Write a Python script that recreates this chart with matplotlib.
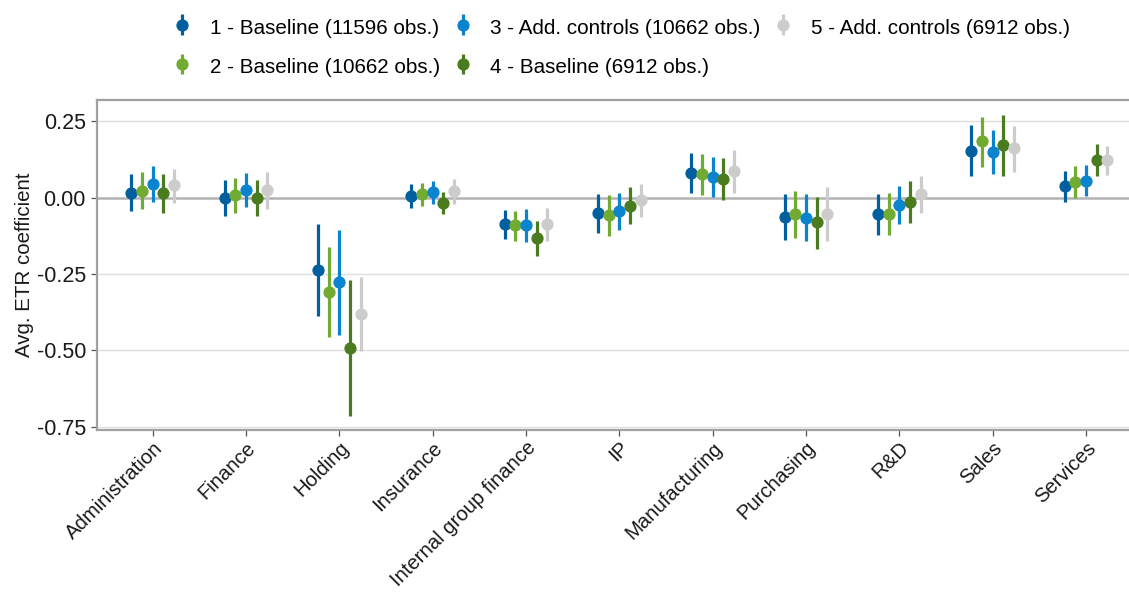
import numpy as np
import matplotlib
matplotlib.use("Agg")
import matplotlib.pyplot as plt

plt.rcParams['font.family'] = ['Liberation Sans', 'DejaVu Sans']

categories = ["Administration", "Finance", "Holding", "Insurance",
              "Internal group finance", "IP", "Manufacturing", "Purchasing",
              "R&D", "Sales", "Services"]

series_labels = ["1 - Baseline (11596 obs.)", "2 - Baseline (10662 obs.)",
                 "3 - Add. controls (10662 obs.)", "4 - Baseline (6912 obs.)",
                 "5 - Add. controls (6912 obs.)"]
series_colors = ["#00609f", "#72ab32", "#0a84cc", "#4a7c1f", "#cccccc"]

# point estimates per series (one value per category)
est1 = [0.016, -0.002, -0.236, 0.004, -0.087, -0.051, 0.082, -0.064, -0.054, 0.154, 0.038]
est2 = [0.023, 0.009, -0.308, 0.012, -0.090, -0.058, 0.078, -0.053, -0.052, 0.186, 0.051]
est3 = [0.046, 0.026, -0.276, 0.020, -0.089, -0.045, 0.067, -0.066, -0.023, 0.150, 0.056]
est4 = [0.014, 0.000, -0.491, -0.017, -0.133, -0.026, 0.061, -0.081, -0.014, 0.173, 0.122]
est5 = [0.041, 0.024, -0.381, 0.022, -0.087, -0.009, 0.086, -0.052, 0.012, 0.162, 0.122]

# confidence interval bounds
lo1 = [-0.044, -0.060, -0.386, -0.035, -0.135, -0.117, 0.016, -0.140, -0.121, 0.070, -0.014]
hi1 = [0.077, 0.057, -0.086, 0.044, -0.041, 0.013, 0.146, 0.011, 0.011, 0.237, 0.087]
lo2 = [-0.038, -0.051, -0.457, -0.026, -0.141, -0.124, 0.010, -0.132, -0.122, 0.102, 0.000]
hi2 = [0.083, 0.066, -0.160, 0.049, -0.044, 0.010, 0.144, 0.022, 0.014, 0.265, 0.104]
lo3 = [-0.013, -0.031, -0.449, -0.020, -0.144, -0.107, 0.001, -0.143, -0.086, 0.079, 0.006]
hi3 = [0.103, 0.082, -0.106, 0.056, -0.037, 0.015, 0.132, 0.011, 0.038, 0.221, 0.106]
lo4 = [-0.049, -0.060, -0.715, -0.054, -0.192, -0.085, -0.008, -0.167, -0.083, 0.070, 0.071]
hi4 = [0.077, 0.059, -0.270, 0.020, -0.077, 0.034, 0.131, 0.003, 0.055, 0.272, 0.175]
lo5 = [-0.017, -0.037, -0.501, -0.021, -0.143, -0.063, 0.014, -0.141, -0.051, 0.085, 0.075]
hi5 = [0.094, 0.083, -0.261, 0.062, -0.035, 0.046, 0.157, 0.035, 0.072, 0.235, 0.168]

estimates = [est1, est2, est3, est4, est5]
lowers = [lo1, lo2, lo3, lo4, lo5]
uppers = [hi1, hi2, hi3, hi4, hi5]

yticks = [0.25, 0.0, -0.25, -0.5, -0.75]
ytick_labels = ["0.25", "0.00", "-0.25", "-0.50", "-0.75"]

W, H = 1129, 592
fig = plt.figure(figsize=(W / 100, H / 100), dpi=100)
ax = fig.add_axes([97 / W, 1 - 430 / H, 1 - 97 / W, 330 / H])

x = np.arange(1, len(categories) + 1)
dodge = 0.1145
handles = []
for k, (est, lo, hi, col, lab) in enumerate(zip(estimates, lowers, uppers,
                                               series_colors, series_labels)):
    est = np.asarray(est)
    err = np.vstack([est - np.asarray(lo), np.asarray(hi) - est])
    h = ax.errorbar(x + (k - 2) * dodge, est, yerr=err, fmt='o', color=col,
                    ecolor=col, elinewidth=2.3, markersize=7.8, capsize=0,
                    label=lab, zorder=3)
    handles.append(h)

ax.axhline(0, color="#b3b3b3", lw=1.8, zorder=1)
for yv in yticks:
    if yv != 0:
        ax.axhline(yv, color="#dedede", lw=1.0, zorder=0)

ax.set_xlim(0.403, 11.46)
ax.set_ylim(-0.761, 0.320)
ax.set_yticks(yticks)
ax.set_yticklabels(ytick_labels, fontsize=15.5, color="#1a1a1a")
ax.set_xticks(x)
ax.set_xticklabels(categories, rotation=45, ha='right', rotation_mode='anchor',
                   fontsize=14.6, color="#1a1a1a")
ax.tick_params(axis='both', length=4, width=0.9, color="#555555")
ax.tick_params(axis='y', pad=4)
ax.tick_params(axis='x', pad=2)
ax.set_ylabel("Avg. ETR coefficient", fontsize=14.8, color="#1a1a1a", labelpad=2)

for side in ("left", "bottom", "top"):
    ax.spines[side].set_color("#a0a0a0")
    ax.spines[side].set_linewidth(1.6)
ax.spines["right"].set_visible(False)

fig.legend(handles=handles, labels=series_labels, ncol=3, frameon=False,
           loc='upper left', bbox_to_anchor=(173 / W, 1 - 16 / H),
           fontsize=14.9, handlelength=0.9, handleheight=1.2,
           handletextpad=0.9, columnspacing=0.62, labelspacing=0.85,
           borderaxespad=0, borderpad=0)

fig.savefig("out.png", dpi=100)
